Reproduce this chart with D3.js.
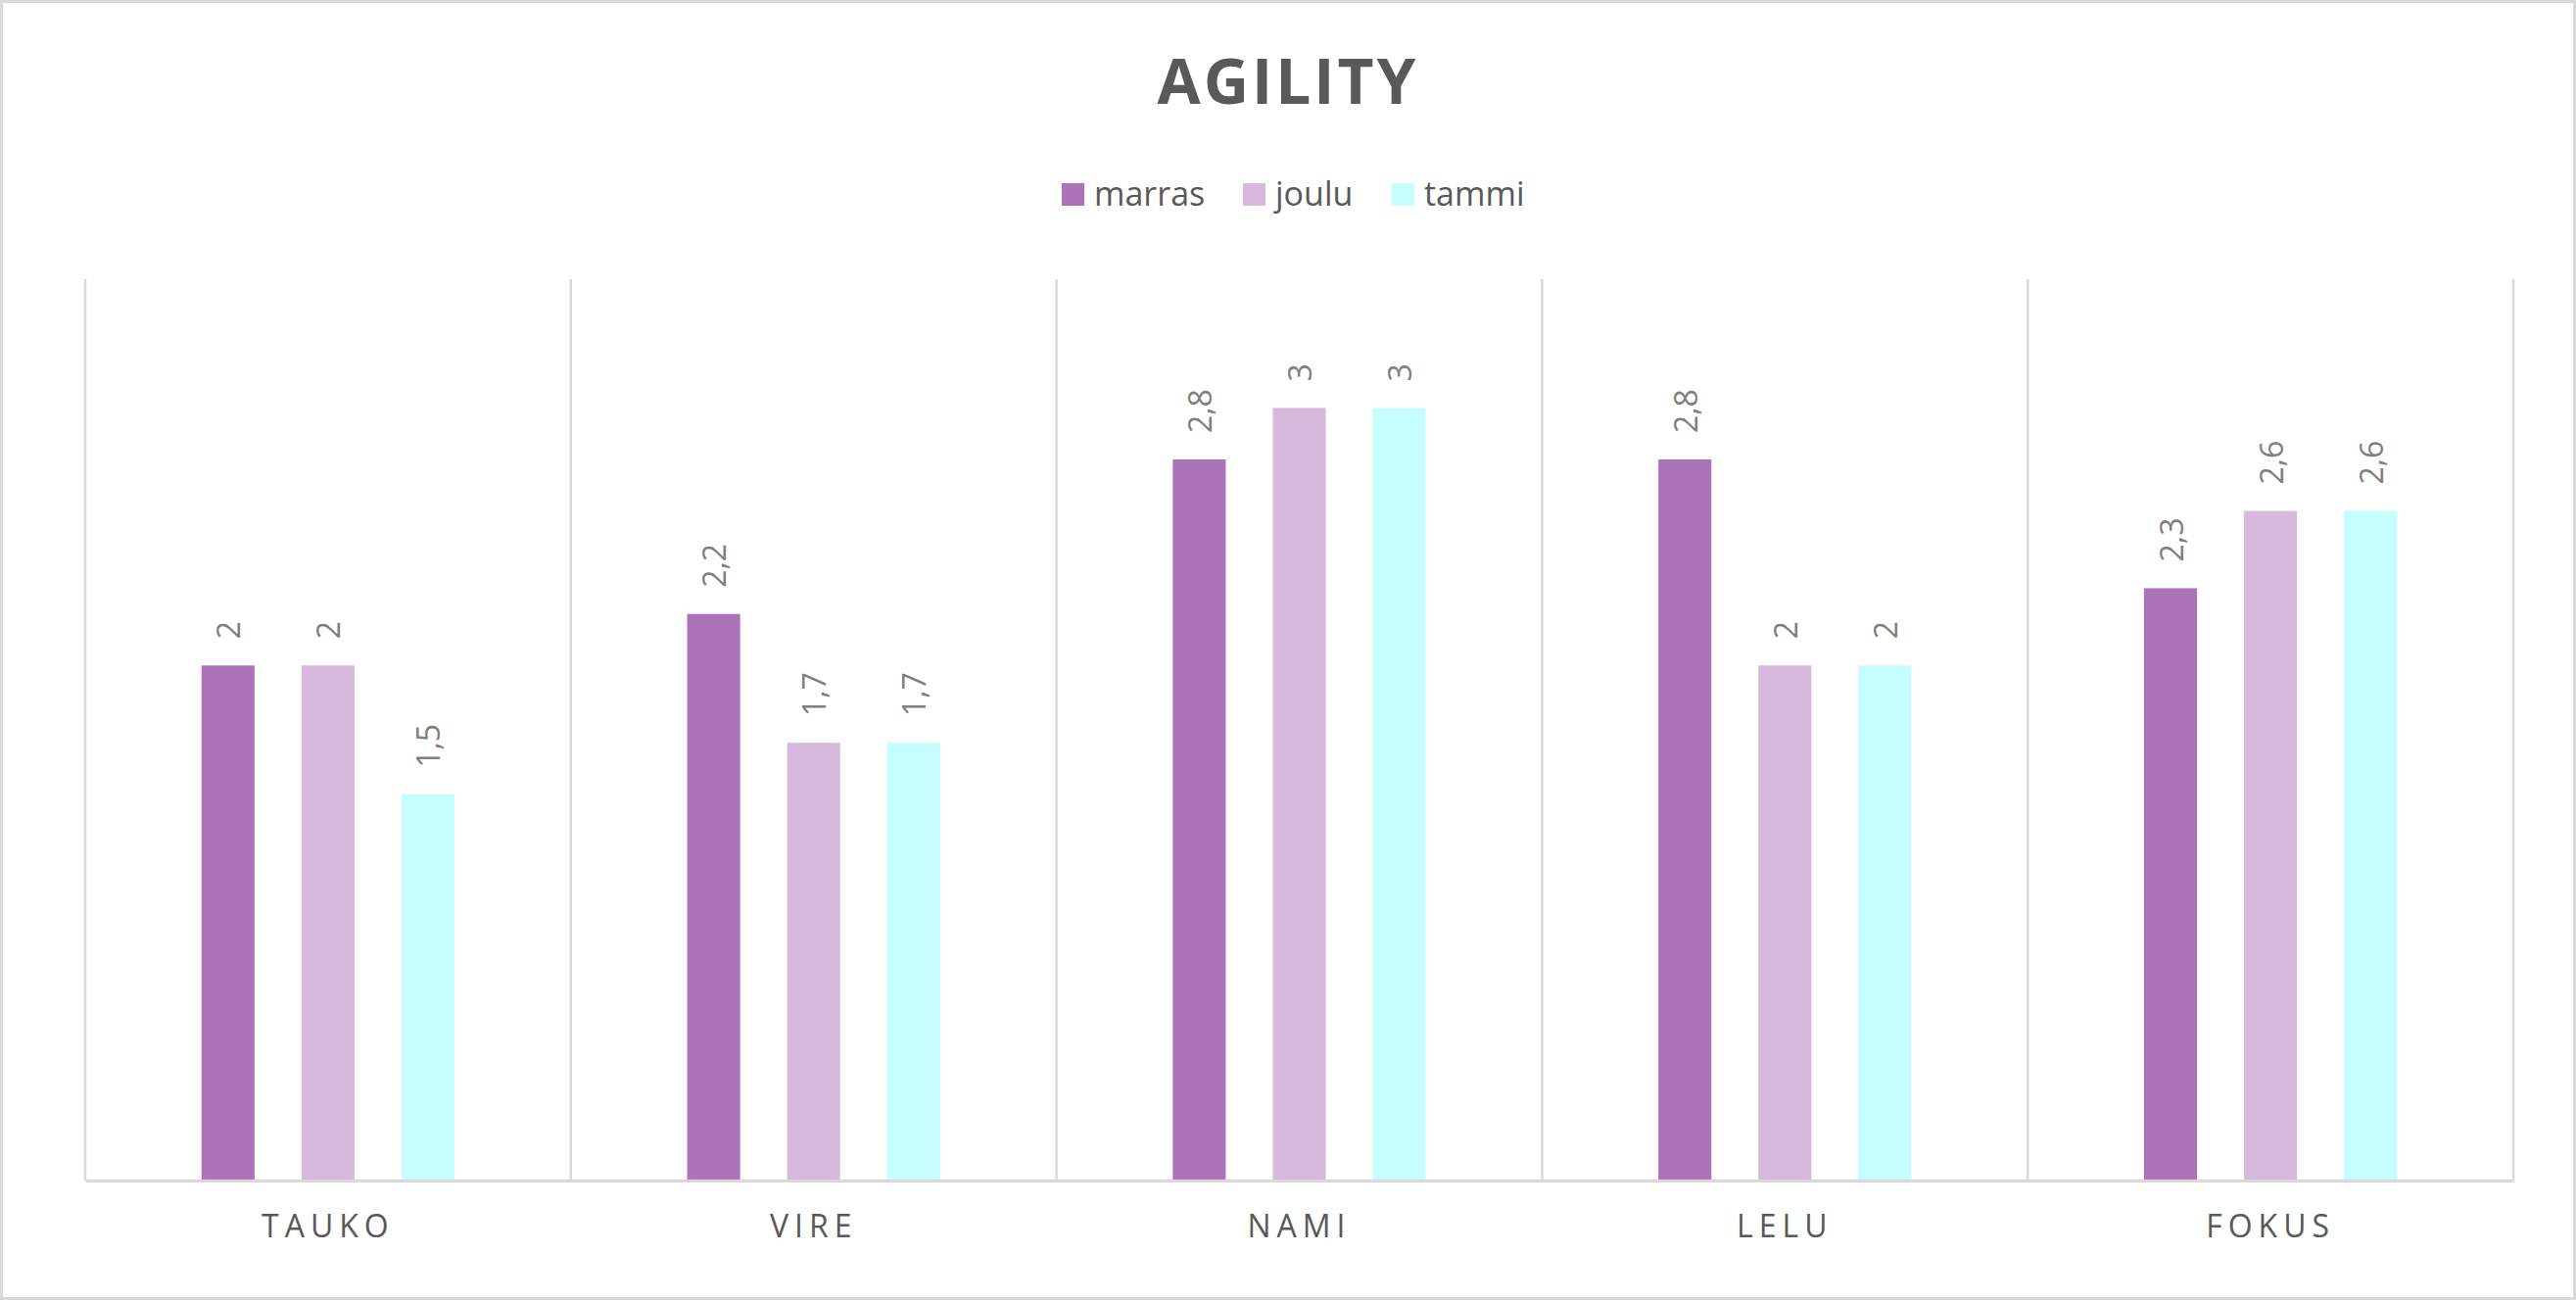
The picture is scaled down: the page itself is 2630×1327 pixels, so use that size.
<!DOCTYPE html>
<html><head><meta charset="utf-8">
<script src="https://cdn.jsdelivr.net/npm/d3@7"></script>
<style>
html,body{margin:0;padding:0;background:#fff;}
svg{display:block;font-family:"Open Sans",sans-serif;}
</style></head>
<body>
<script>
const categories = ["TAUKO","VIRE","NAMI","LELU","FOKUS"];
const seriesNames = ["marras","joulu","tammi"];
const marras = [2, 2.2, 2.8, 2.8, 2.3];
const joulu  = [2, 1.7, 3, 2, 2.6];
const tammi  = [1.5, 1.7, 3, 2, 2.6];
const colors = ["#ab73b8","#d6b9dd","#c6fdfd"];
const series = [marras, joulu, tammi];

const W = 2630, H = 1327;
const m = {left:87, right:2566, top:285, bottom:1205};

const svg = d3.select("body").append("svg").attr("width",W).attr("height",H);
svg.append("rect").attr("x",1.5).attr("y",1.5).attr("width",W-3).attr("height",H-3)
  .attr("fill","#fff").attr("stroke","#d9d9d9").attr("stroke-width",3);

const x0 = d3.scaleBand().domain(categories).range([m.left,m.right]).paddingInner(0).paddingOuter(0);
const x1 = d3.scaleBand().domain(seriesNames).range([x0.bandwidth()*0.2395, x0.bandwidth()*0.7605]).paddingInner(0.47).paddingOuter(0);
const y = d3.scaleLinear().domain([0,3.5]).range([m.bottom,m.top]);

// vertical gridlines at category boundaries
const bounds = categories.map(c=>x0(c)).concat([m.right]);
svg.append("g").selectAll("line").data(bounds).join("line")
  .attr("x1",d=>d).attr("x2",d=>d).attr("y1",m.top).attr("y2",m.bottom)
  .attr("stroke","#d9d9d9").attr("stroke-width",2.5);

// bars
const data = [];
categories.forEach((c,i)=>seriesNames.forEach((s,j)=>data.push({c,s,v:series[j][i],j})));
svg.append("g").selectAll("rect").data(data).join("rect")
  .attr("x",d=>x0(d.c)+x1(d.s)).attr("width",x1.bandwidth())
  .attr("y",d=>y(d.v)).attr("height",d=>y(0)-y(d.v))
  .attr("fill",d=>colors[d.j]);

// baseline
const xAxis = d3.axisBottom(x0).tickSize(0).tickPadding(0);
const gx = svg.append("g").attr("transform",`translate(0,${m.bottom})`).call(xAxis);
gx.select(".domain").attr("stroke","#d9d9d9").attr("stroke-width",3);
gx.selectAll("text").attr("font-size",32).attr("fill","#595959")
  .attr("letter-spacing","6px").attr("dy",null).attr("y",58).attr("dominant-baseline","auto")
  .attr("font-family","'Open Sans',sans-serif");

// data labels
const fmt = v => String(v).replace(".",",");
svg.append("g").selectAll("text").data(data).join("text")
  .attr("transform",d=>`translate(${x0(d.c)+x1(d.s)+x1.bandwidth()/2},${y(d.v)-27}) rotate(-90)`)
  .attr("text-anchor","start").attr("dominant-baseline","central")
  .attr("font-size",32).attr("fill","#7f7f7f").text(d=>fmt(d.v));

// title
svg.append("text").attr("x",W/2).attr("y",106).attr("text-anchor","middle")
  .attr("font-size",64).attr("font-weight","bold").attr("fill","#595959")
  .attr("letter-spacing","3px").text("AGILITY");

// legend
const legX = [1084,1269,1421];
const lg = svg.append("g").selectAll("g").data(seriesNames).join("g")
  .attr("transform",(d,i)=>`translate(${legX[i]},0)`);
lg.append("rect").attr("x",0).attr("y",187).attr("width",23).attr("height",23).attr("fill",(d,i)=>colors[i]);
lg.append("text").attr("x",33).attr("y",210).attr("font-size",34).attr("fill","#595959").text(d=>d);
</script>
</body></html>
